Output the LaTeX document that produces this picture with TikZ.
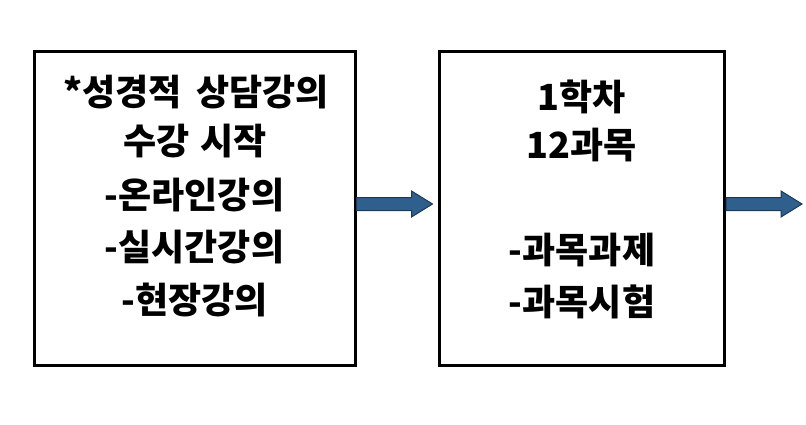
\documentclass[tikz,border=0pt]{standalone}
\usepackage{fontspec}
\newfontfamily\kr{Noto Sans CJK KR}
\definecolor{arrfill}{HTML}{2F5F8C}
\definecolor{arrdraw}{HTML}{1C3A57}
\begin{document}
\begin{tikzpicture}[x=1pt,y=-1pt,
  box/.style={draw=black,line width=3pt,minimum width=#1,minimum height=314pt,inner sep=0pt},
  txt/.style={font=\kr\bfseries\fontsize{36}{42}\selectfont,inner sep=0pt,anchor=center},
  blockarrow/.style={fill=arrfill,draw=arrdraw,line width=1pt,line join=miter}]
\useasboundingbox (0,0) rectangle (806,424);
\node[box=321pt] (b1) at (194.5,208) {};
\node[box=285pt] (b2) at (582,208) {};
\node[txt] (t1) at (196,92) {*성경적\hspace{0.4em}상담강의};
\node[txt] (t2) at (195,141) {수강\hspace{0.3em}시작};
\node[txt] (t3) at (194.5,195) {-온라인강의};
\node[txt] (t4) at (194.5,247) {-실시간강의};
\node[txt] (t5) at (194.5,300) {-현장강의};
\node[txt] (u1) at (582,97) {1학차};
\node[txt] (u2) at (582,145) {12과목};
\node[txt] (u3) at (582,250) {-과목과제};
\node[txt] (u4) at (582,302) {-과목시험};
\coordinate (a1s) at ([yshift=4pt]b1.east);
\coordinate (a2s) at ([yshift=4pt]b2.east);
\foreach \s in {a1s,a2s}{
  \draw[blockarrow] (\s) ++(0,-6.5) -- ++(55,0) -- ++(0,-6.5) -- ++(21,13) -- ++(-21,13) -- ++(0,-6.5) -- ++(-55,0) -- cycle;
}
\end{tikzpicture}
\end{document}
